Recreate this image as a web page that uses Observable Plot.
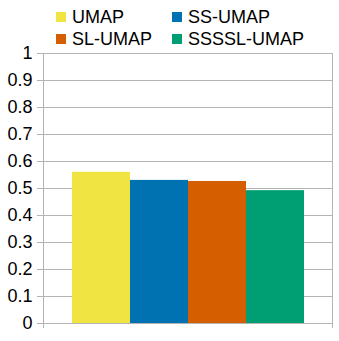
<!DOCTYPE html>
<html><head><meta charset="utf-8">
<script src="https://cdn.jsdelivr.net/npm/d3@7"></script>
<script src="https://cdn.jsdelivr.net/npm/@observablehq/plot@0.6"></script>
<style>
body{margin:0;background:#fff;font-family:"Liberation Sans",Arial,sans-serif;}
#wrap{position:relative;width:339px;height:341px;}
#legend{position:relative;width:339px;height:35px;}
.item{position:absolute;font-size:18px;line-height:18px;color:#000;white-space:nowrap;}
.sw{position:absolute;width:10px;height:10px;}
</style></head>
<body><div id="wrap"><div id="legend"></div><div id="chart"></div></div>
<script>
const series = ["UMAP", "SS-UMAP", "SL-UMAP", "SSSSL-UMAP"];
const values = [0.56, 0.53, 0.526, 0.492];
const colors = ["#f0e442", "#0072b2", "#d55e00", "#009e73"];
const yTicks = [0, 0.1, 0.2, 0.3, 0.4, 0.5, 0.6, 0.7, 0.8, 0.9, 1];

const data = series.map((s, i) => ({series: s, value: values[i]}));

// legend
const legend = document.getElementById("legend");
const legendPos = [[56, 12], [172, 12], [56, 33.5], [172, 33.5]];
series.forEach((s, i) => {
  const [lx, ly] = legendPos[i];
  const sw = document.createElement("div");
  sw.className = "sw";
  sw.style.left = lx + "px"; sw.style.top = ly + "px";
  sw.style.background = colors[i];
  legend.appendChild(sw);
  const t = document.createElement("div");
  t.className = "item";
  t.style.left = (lx + 16) + "px"; t.style.top = (ly - 4) + "px";
  t.textContent = s;
  legend.appendChild(t);
});

const grid = "#b3b3b3";
const plot = Plot.plot({
  width: 339,
  height: 306,
  marginTop: 18,
  marginBottom: 18,
  marginLeft: 43,
  marginRight: 7,
  style: {fontFamily: "Liberation Sans, Arial, sans-serif", fontSize: "18px", color: "#000", background: "transparent", overflow: "visible"},
  x: {domain: series, paddingInner: 0, paddingOuter: 0.49, axis: null},
  y: {domain: [0, 1], ticks: yTicks, tickFormat: d3.format("~g"), label: null},
  color: {domain: series, range: colors},
  marks: [
    Plot.ruleY(yTicks, {stroke: grid, strokeWidth: 1}),
    Plot.axisY({ticks: yTicks, tickFormat: d3.format("~g"), tickSize: 6, tickPadding: 5, stroke: grid, strokeOpacity: 1, label: null, fill: "#000"}),
    Plot.barY(data, {x: "series", y: "value", fill: "series"}),
    (index, scales, values, dims) => {
      const g = d3.create("svg:g").attr("stroke", grid).attr("shape-rendering", "crispEdges");
      const y0 = scales.y(0), y1 = scales.y(1);
      [dims.marginLeft, dims.width - dims.marginRight].forEach(x => {
        g.append("line").attr("x1", x).attr("x2", x).attr("y1", y1).attr("y2", y0 + 5);
      });
      return g.node();
    }
  ]
});
document.getElementById("chart").appendChild(plot);
</script></body></html>
